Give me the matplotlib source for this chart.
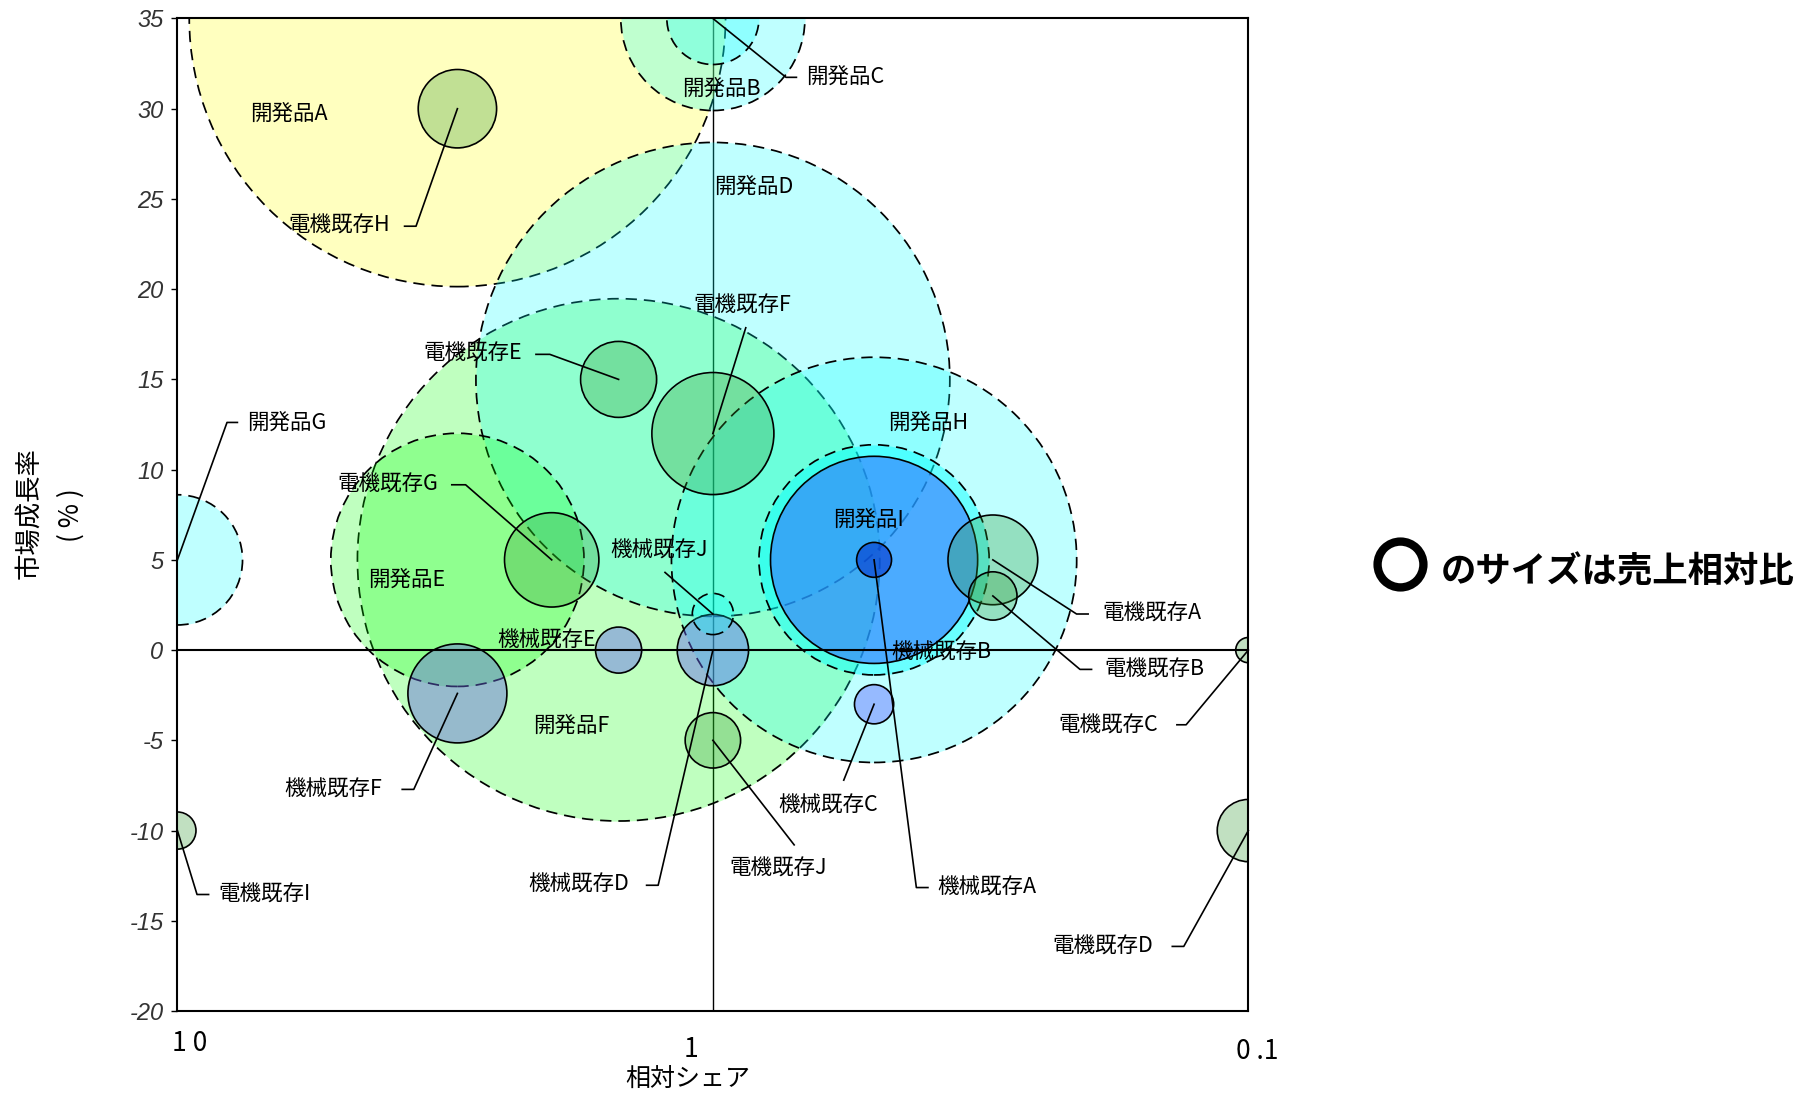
import matplotlib
matplotlib.use('Agg')
import matplotlib.pyplot as plt
from matplotlib.lines import Line2D
from matplotlib.transforms import ScaledTranslation, blended_transform_factory

plt.rcParams['font.family'] = ['Noto Sans CJK JP', 'DejaVu Sans']

# 開発品（破線の円）
dev_names = ['開発品A', '開発品B', '開発品C', '開発品D', '開発品E',
             '開発品F', '開発品G', '開発品H', '開発品I']
dev_share = [3, 1, 1, 1, 3, 1.5, 10, 0.5, 0.5]
dev_growth = [35, 35, 35, 15, 5, 5, 5, 5, 5]
dev_sales = [543, 64, 16, 424, 121, 515, 32, 310, 100]

# 既存品（実線の円）
exist_names = ['電機既存A', '電機既存B', '電機既存C', '電機既存D', '電機既存E',
               '電機既存F', '電機既存G', '電機既存H', '電機既存I', '電機既存J',
               '機械既存A', '機械既存B', '機械既存C', '機械既存D', '機械既存E',
               '機械既存F', '機械既存J']
exist_share = [0.3, 0.3, 0.1, 0.1, 1.5, 1, 2, 3, 10, 1,
               0.5, 0.5, 0.5, 1, 1.5, 3, 1]
exist_growth = [5, 3, 0, -10, 15, 12, 5, 30, -10, -5,
                5, 5, -3, 0, 0, -2.4, 2]
exist_sales = [15.2, 4.4, 1.2, 7.3, 10.9, 28.1, 16.8, 11.6, 2.6, 5.8,
               2.3, 81.0, 2.9, 9.6, 4.0, 18.5, 3.2]

x_tick_vals = [10, 1, 0.1]
x_tick_labels = ['1 0', '1', '0 .1']
y_ticks = list(range(-20, 36, 5))

# 塗り色と透明度
CYAN, GREEN, YELLOW = '#00FFFF', '#00FF00', '#FFFF00'
fill = {
    '開発品A': (YELLOW, 0.25), '開発品B': (CYAN, 0.25), '開発品C': (CYAN, 0.25),
    '開発品D': (CYAN, 0.25), '開発品E': (GREEN, 0.25), '開発品F': (GREEN, 0.25),
    '開発品G': (CYAN, 0.25), '開発品H': (CYAN, 0.25), '開発品I': (CYAN, 0.45),
    '機械既存A': ('#0033CC', 0.6), '機械既存B': ('#3366FF', 0.55),
    '機械既存C': ('#6666FF', 0.45), '機械既存D': ('#6666EE', 0.45),
    '機械既存E': ('#6666EE', 0.45), '機械既存F': ('#6666DD', 0.45),
    '機械既存J': (CYAN, 0.25),
}
dashed_exist = {'機械既存J'}
SIZE_SCALE = 274.6
DASH = (0, (6.5, 4))

# ラベル位置（軸座標）と引き出し線の途中点
label_pos = {
    '開発品A': (0.104, 0.904), '電機既存H': (0.151, 0.791),
    '開発品B': (0.508, 0.929), '開発品C': (0.624, 0.941),
    '開発品D': (0.538, 0.830), '電機既存F': (0.527, 0.711),
    '電機既存E': (0.276, 0.662), '開発品G': (0.102, 0.593),
    '電機既存G': (0.196, 0.530), '開発品H': (0.701, 0.593),
    '開発品I': (0.645, 0.495), '機械既存J': (0.450, 0.464),
    '開発品E': (0.214, 0.435), '機械既存E': (0.345, 0.373),
    '機械既存B': (0.713, 0.361), '電機既存A': (0.910, 0.400),
    '電機既存B': (0.912, 0.344), '電機既存C': (0.869, 0.288),
    '開発品F': (0.368, 0.287), '機械既存F': (0.145, 0.223),
    '機械既存C': (0.608, 0.207), '電機既存J': (0.561, 0.143),
    '機械既存D': (0.375, 0.127), '機械既存A': (0.756, 0.124),
    '電機既存I': (0.081, 0.117), '電機既存D': (0.864, 0.065),
}
leaders = {
    '電機既存H': [(0.2121, 0.7907), (0.2228, 0.7907)],
    '開発品C': [(0.578, 0.9407), (0.5683, 0.9407)],
    '電機既存F': [(0.5307, 0.6884)],
    '電機既存E': [(0.3348, 0.6616), (0.3477, 0.6616)],
    '開発品G': [(0.056, 0.593), (0.0463, 0.593)],
    '電機既存G': [(0.2562, 0.5302), (0.2691, 0.5302)],
    '機械既存J': [(0.4553, 0.4419)],
    '電機既存A': [(0.8504, 0.400), (0.8396, 0.400)],
    '電機既存B': [(0.8536, 0.3442), (0.8428, 0.3442)],
    '電機既存C': [(0.9333, 0.2884), (0.9419, 0.2884)],
    '機械既存F': [(0.2099, 0.2233), (0.2207, 0.2233)],
    '機械既存C': [(0.6222, 0.2326)],
    '電機既存J': [(0.5759, 0.1674)],
    '機械既存D': [(0.4381, 0.1267), (0.4489, 0.1267)],
    '機械既存A': [(0.7008, 0.1244), (0.690, 0.1244)],
    '電機既存I': [(0.0291, 0.1174), (0.0183, 0.1174)],
    '電機既存D': [(0.929, 0.0651), (0.9397, 0.0651)],
}


def frac_to_data(fx, fy):
    return 10 ** (1 - 2 * fx), -20 + 55 * fy


fig = plt.figure(figsize=(18.05, 10.93), dpi=100)
ax = fig.add_axes([0.0983, 0.0750, 0.5933, 0.9081])
ax.set_xscale('log')
ax.set_xlim(10, 0.1)
ax.set_ylim(-20, 35)

ax.axvline(1, color='black', lw=1.0, zorder=1.5)
ax.axhline(0, color='black', lw=1.5, zorder=3)

centers = {}
for n, x, y, v in sorted(zip(dev_names, dev_share, dev_growth, dev_sales), key=lambda t: -t[3]):
    c, a = fill[n]
    ax.scatter([x], [y], s=v * SIZE_SCALE, color=c, alpha=a, lw=0, zorder=2)
    ax.scatter([x], [y], s=v * SIZE_SCALE, facecolor='none', edgecolor='black',
               lw=1.25, linestyle=DASH, zorder=2)
    centers[n] = (x, y)

for n, x, y, v in sorted(zip(exist_names, exist_share, exist_growth, exist_sales), key=lambda t: -t[3]):
    c, a = fill.get(n, ('#339933', 0.3))
    ls = DASH if n in dashed_exist else '-'
    ax.scatter([x], [y], s=v * SIZE_SCALE, color=c, alpha=a, lw=0, zorder=2.2)
    ax.scatter([x], [y], s=v * SIZE_SCALE, facecolor='none', edgecolor='black',
               lw=1.2, linestyle=ls, zorder=2.2)
    centers[n] = (x, y)

for n, (fx, fy) in label_pos.items():
    ax.text(fx, fy, n, transform=ax.transAxes, ha='center', va='center',
            fontsize=15.5, zorder=5)
    if n in leaders:
        pts = [frac_to_data(px, py) for px, py in leaders[n]] + [centers[n]]
        ax.plot([p[0] for p in pts], [p[1] for p in pts], color='black',
                lw=1.2, zorder=4, clip_on=False)

for sp in ax.spines.values():
    sp.set_linewidth(1.5)

ax.set_yticks(y_ticks)
ax.set_yticklabels([str(t) for t in y_ticks])
for lbl in ax.get_yticklabels():
    lbl.set_family(['Liberation Sans Narrow', 'Liberation Sans'])
    lbl.set_style('italic')
    lbl.set_fontsize(17)
    lbl.set_color('#333333')
ax.tick_params(axis='y', length=4, width=1, pad=6)
ax.set_xticks([])
ax.xaxis.set_minor_locator(matplotlib.ticker.NullLocator())

xt = blended_transform_factory(ax.transData, ax.transAxes)
x_offsets = [(12, -32), (-22, -38), (9, -40)]
for v, t, (dx, dy) in zip(x_tick_vals, x_tick_labels, x_offsets):
    ax.text(v, 0, t, ha='center', va='center', fontsize=19,
            transform=xt + ScaledTranslation(dx / 100, dy / 100, fig.dpi_scale_trans))

fig.text(0.381, 0.0133, '相対シェア', ha='center', va='center', fontsize=18)
fig.text(0.016, 0.531, '市場成長率', ha='center', va='center', fontsize=19, rotation=90)
fig.text(0.0393, 0.529, '( % )', ha='center', va='center', fontsize=19, rotation=90)

# バブルの大きさの説明
fig.add_artist(Line2D([0.7756], [0.484], transform=fig.transFigure, marker='o',
                      markersize=33, mfc='none', mec='black', mew=6))
fig.text(0.798, 0.477, 'のサイズは売上相対比', ha='left', va='center',
         fontsize=25.5, fontweight='bold')

fig.savefig('out.png', dpi=100)
